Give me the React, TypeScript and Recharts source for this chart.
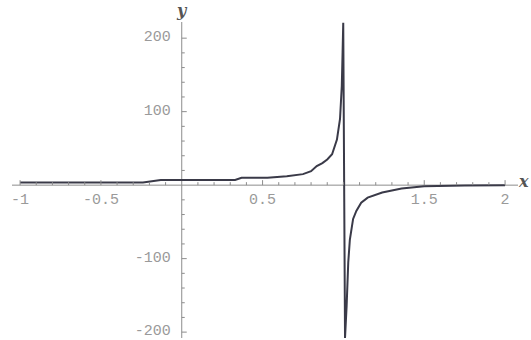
import React from "react";
import { LineChart, Line, XAxis, YAxis, ReferenceLine, ReferenceDot } from "recharts";

// curve (one branch runs into the pole at x = 1 and comes back from below)
const xValues = [
  -1, -0.5, -0.24, -0.13, 0, 0.33, 0.37, 0.53, 0.65, 0.75, 0.8, 0.835, 0.87, 0.9, 0.93, 0.96, 0.979,
  0.99, 0.995, 0.999, 1.01, 1.02, 1.03, 1.04, 1.06, 1.08, 1.11, 1.15, 1.24, 1.36, 1.5, 1.75, 2,
];
const yValues = [
  3.5, 3.5, 3.5, 7, 7, 7, 10, 10, 12, 15, 19, 26, 30, 35, 42, 62, 90,
  135, 181, 221, -208, -164, -105, -74, -46, -35, -24, -17, -10, -4.5, -1.5, -0.5, 0,
];

const xMajor = [-1, -0.5, 0.5, 1.5, 2];
const xMinor = [-0.9, -0.8, -0.7, -0.6, -0.4, -0.3, -0.2, -0.1, 0.1, 0.2, 0.3, 0.4, 0.6, 0.7, 0.8, 0.9, 1, 1.1, 1.2, 1.3, 1.4, 1.6, 1.7, 1.8, 1.9];
const yMajor = [-200, -100, 100, 200];
const yMinor = [-180, -160, -140, -120, -80, -60, -40, -20, 20, 40, 60, 80, 120, 140, 160, 180];

const data = xValues.map((x, i) => ({ x, y: yValues[i] }));

const AXIS = "#8c8c8c";
const LABEL = "#9a9a9a";
const tickFont = { fontFamily: "'Liberation Mono', monospace", fontSize: 15, fill: LABEL };

const XTick = (label: string | null, len: number) => (props: any) => (
  <g>
    <line x1={props.cx} x2={props.cx} y1={props.cy} y2={props.cy - len} stroke={AXIS} strokeWidth={1} />
    {label && (
      <text x={props.cx} y={props.cy + 19} textAnchor="middle" {...tickFont}>
        {label}
      </text>
    )}
  </g>
);

const YTick = (label: string | null, len: number) => (props: any) => (
  <g>
    <line x1={props.cx} x2={props.cx + len} y1={props.cy} y2={props.cy} stroke={AXIS} strokeWidth={1} />
    {label && (
      <text x={props.cx - 11} y={props.cy + 3} textAnchor="end" {...tickFont}>
        {label}
      </text>
    )}
  </g>
);

const axisName = { fontFamily: "'DejaVu Serif', serif", fontStyle: "italic", fontWeight: "bold", fontSize: 16, fill: "#555" };

export default function App() {
  return (
    <div style={{ position: "absolute", left: 0, top: 0, background: "#fff" }}>
      <LineChart width={531} height={340} data={data} margin={{ top: 22, right: 13, bottom: 2, left: 12 }}>
        <XAxis type="number" dataKey="x" domain={[-1.05, 2.08]} allowDataOverflow hide />
        <YAxis type="number" domain={[-208, 222]} allowDataOverflow hide />

        <ReferenceLine y={0} stroke={AXIS} strokeWidth={1} />
        <ReferenceLine x={0} stroke={AXIS} strokeWidth={1} />

        {xMinor.map((v) => (
          <ReferenceDot key={`xm${v}`} x={v} y={0} r={0} shape={XTick(null, 3)} />
        ))}
        {xMajor.map((v) => (
          <ReferenceDot key={`xM${v}`} x={v} y={0} r={0} shape={XTick(String(v), 5)} />
        ))}
        {yMinor.map((v) => (
          <ReferenceDot key={`ym${v}`} x={0} y={v} r={0} shape={YTick(null, 3)} />
        ))}
        {yMajor.map((v) => (
          <ReferenceDot key={`yM${v}`} x={0} y={v} r={0} shape={YTick(String(v), 5)} />
        ))}

        <ReferenceDot
          x={2.08}
          y={0}
          r={0}
          shape={(p: any) => (
            <text x={p.cx + 1} y={p.cy + 2} {...axisName}>x</text>
          )}
        />
        <ReferenceDot
          x={0}
          y={222}
          r={0}
          shape={(p: any) => (
            <text x={p.cx} y={p.cy - 6} textAnchor="middle" {...axisName}>y</text>
          )}
        />

        <Line
          type="linear"
          dataKey="y"
          stroke="#3a3a48"
          strokeWidth={2}
          dot={false}
          isAnimationActive={false}
        />
      </LineChart>
    </div>
  );
}
